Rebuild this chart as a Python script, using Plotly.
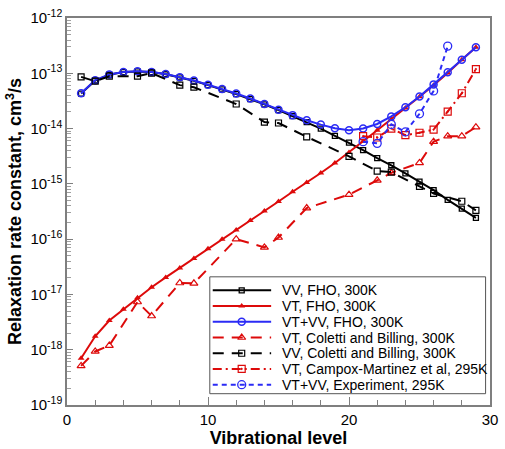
import plotly.graph_objects as go

# ---------------- data ----------------
levels_fho = list(range(1, 30))

vv_fho = [4.3e-14, 7.4e-14, 9.4e-14, 1.05e-13, 1.08e-13, 1.05e-13, 9.6e-14, 8.4e-14,
          7.3e-14, 6.1e-14, 5.1e-14, 4.2e-14, 3.4e-14, 2.75e-14, 2.15e-14, 1.68e-14,
          1.31e-14, 1.0e-14, 7.4e-15, 5.57e-15, 4.07e-15, 2.93e-15, 2.17e-15, 1.55e-15,
          1.1e-15, 7.7e-16, 5.13e-16, 3.55e-16, 2.43e-16]

vt_fho = [7.0e-19, 1.75e-18, 3.37e-18, 5.42e-18, 8.7e-18, 1.35e-17, 2.03e-17, 3.0e-17,
          4.47e-17, 6.7e-17, 1.0e-16, 1.47e-16, 2.17e-16, 3.23e-16, 4.79e-16, 7.2e-16,
          1.06e-15, 1.57e-15, 2.39e-15, 3.7e-15, 5.9e-15, 9.3e-15, 1.47e-14, 2.36e-14,
          3.75e-14, 6.1e-14, 1.01e-13, 1.75e-13, 2.97e-13]

vtvv_fho = [4.35e-14, 7.5e-14, 9.5e-14, 1.057e-13, 1.09e-13, 1.06e-13, 9.7e-14, 8.5e-14,
            7.4e-14, 6.2e-14, 5.2e-14, 4.3e-14, 3.5e-14, 2.78e-14, 2.2e-14, 1.75e-14,
            1.41e-14, 1.18e-14, 1.01e-14, 9.3e-15, 1.0e-14, 1.21e-14, 1.66e-14, 2.43e-14,
            3.8e-14, 6.3e-14, 1.04e-13, 1.75e-13, 2.97e-13]

levels_vt_cb = [1, 2, 3, 5, 6, 8, 9, 12, 14, 15, 17, 20, 22, 23, 25, 26, 27, 28, 29]
vt_cb = [5.1e-19, 9.3e-19, 1.19e-18, 7.3e-18, 4.07e-18, 1.61e-17, 1.59e-17, 1.0e-16,
         7.1e-17, 1.07e-16, 3.65e-16, 6.38e-16, 1.16e-15, 1.58e-15, 2.39e-15, 5.8e-15,
         7.3e-15, 7.3e-15, 1.06e-14]

levels_vv_cb = [1, 2, 3, 5, 6, 8, 9, 12, 14, 15, 17, 20, 22, 23, 25, 26, 28, 29]
vv_cb = [8.6e-14, 7.2e-14, 8.85e-14, 8.85e-14, 1.01e-13, 6.1e-14, 5.6e-14, 2.78e-14,
         1.31e-14, 1.26e-14, 7.1e-15, 3.14e-15, 1.7e-15, 1.63e-15, 8.97e-16, 6.7e-16,
         4.85e-16, 3.32e-16]

levels_cm = [21, 22, 23, 24, 25, 26, 27, 28, 29]
vt_cm = [7.3e-15, 6.9e-15, 1.0e-14, 7.6e-15, 8.4e-15, 9.6e-15, 2.03e-14, 4.35e-14, 1.19e-13]

levels_exp = [21, 22, 23, 24, 25, 26, 27]
vtvv_exp = [5.8e-15, 5.4e-15, 1.19e-14, 8.7e-15, 1.85e-14, 4.8e-14, 3.1e-13]

names = ["VV, FHO, 300K", "VT, FHO, 300K", "VT+VV, FHO, 300K",
         "VT, Coletti and Billing, 300K", "VV, Coletti and Billing, 300K",
         "VT, Campox-Martinez et al, 295K", "VT+VV, Experiment, 295K"]

x_ticks = [0, 10, 20, 30]
y_exponents = [-19, -18, -17, -16, -15, -14, -13, -12]

x_title = "Vibrational level"
y_title = "Relaxation rate constant, cm<sup>3</sup>/s"

# ---------------- styles ----------------
RED = "#dd0a0a"
BLUE = "#2b2bf5"
BLACK = "#000000"
FONT = "Arial, Liberation Sans, sans-serif"

styles = [
    dict(line=dict(color=BLACK, width=2),
         marker=dict(symbol="square-open", size=5, color=BLACK, line=dict(width=1.3))),
    dict(line=dict(color=RED, width=2),
         marker=dict(symbol="triangle-up", size=6, color=RED)),
    dict(line=dict(color=BLUE, width=2),
         marker=dict(symbol="circle-open", size=7, color=BLUE, line=dict(width=1.5))),
    dict(line=dict(color=RED, width=2, dash="11px,8px"),
         marker=dict(symbol="triangle-up-open", size=7, color=RED, line=dict(width=1.2))),
    dict(line=dict(color=BLACK, width=2, dash="11px,8px"),
         marker=dict(symbol="square-open", size=6, color=BLACK, line=dict(width=1.2))),
    dict(line=dict(color=RED, width=2, dash="9px,4px,2px,4px"),
         marker=dict(symbol="square-open-dot", size=7, color=RED, line=dict(width=1.2))),
    dict(line=dict(color=BLUE, width=2, dash="5px,4px"),
         marker=dict(symbol="circle-open", size=8, color=BLUE, line=dict(width=1.3))),
]

series = [(levels_fho, vv_fho), (levels_fho, vt_fho), (levels_fho, vtvv_fho),
          (levels_vt_cb, vt_cb), (levels_vv_cb, vv_cb), (levels_cm, vt_cm),
          (levels_exp, vtvv_exp)]

fig = go.Figure()
for name, (xs, ys), st in zip(names, series, styles):
    fig.add_trace(go.Scatter(x=xs, y=ys, name=name, mode="lines+markers",
                             line=st["line"], marker=st["marker"], showlegend=False))

# ---------------- legend box (drawn on a pixel-scaled overlay axis) ----------------
PLOT_L, PLOT_R, PLOT_T, PLOT_B = 67, 498, 16, 410
box = dict(x0=212.5, x1=493.5, y0=279.5, y1=398.5)
row0, row_step = 293.3, 16.0
samp_x0, samp_x1, samp_mid, text_x = 215.5, 275.0, 245.0, 284.0

fig.add_trace(go.Scatter(
    x=[box["x0"], box["x1"], box["x1"], box["x0"], box["x0"]],
    y=[box["y0"], box["y0"], box["y1"], box["y1"], box["y0"]],
    xaxis="x2", yaxis="y2", mode="lines", fill="toself", fillcolor="white",
    line=dict(color="#555555", width=1), showlegend=False, hoverinfo="skip"))

for i, (name, st) in enumerate(zip(names, styles)):
    ry = row0 + i * row_step
    fig.add_trace(go.Scatter(x=[samp_x0, samp_x1], y=[ry, ry], xaxis="x2", yaxis="y2",
                             mode="lines", line=st["line"], showlegend=False, hoverinfo="skip"))
    fig.add_trace(go.Scatter(x=[samp_mid], y=[ry], xaxis="x2", yaxis="y2",
                             mode="markers", marker=st["marker"], showlegend=False,
                             hoverinfo="skip"))
    fig.add_annotation(x=text_x, y=ry, xref="x2", yref="y2", text=name, showarrow=False,
                       xanchor="left", yanchor="middle",
                       font=dict(family=FONT, size=14, color="black"))

axis_common = dict(showline=True, linecolor="#7f7f7f", linewidth=1.5, mirror=True,
                   showgrid=False, zeroline=False, ticks="inside", tickcolor="#7f7f7f",
                   tickfont=dict(family=FONT, size=15, color="black"))

minor_vals = [m * 10.0 ** e for e in y_exponents[:-1] for m in range(2, 10)]

xaxis = dict(range=[0, 30], tickmode="array", tickvals=x_ticks,
             ticktext=[str(t) for t in x_ticks], ticklen=8, tickwidth=1,
             minor=dict(tickmode="linear", tick0=0, dtick=2, ticks="inside", ticklen=5,
                        tickcolor="#7f7f7f", showgrid=False),
             title=dict(text=x_title,
                        font=dict(family=FONT, size=18, color="black", weight="bold"),
                        standoff=2),
             **axis_common)

yaxis = dict(type="log", range=[-19, -12], tickmode="array",
             tickvals=[10.0 ** e for e in y_exponents],
             ticktext=["10<sup>%d</sup>" % e for e in y_exponents], ticklen=6,
             minor=dict(tickmode="array", tickvals=minor_vals, ticks="inside", ticklen=4,
                        tickcolor="#9f9f9f", showgrid=False),
             title=dict(text=y_title,
                        font=dict(family=FONT, size=18, color="black", weight="bold"),
                        standoff=4),
             **axis_common)

fig.update_layout(
    width=505, height=449,
    margin=dict(l=PLOT_L, r=505 - PLOT_R, t=PLOT_T, b=449 - PLOT_B),
    paper_bgcolor="white", plot_bgcolor="white",
    font=dict(family=FONT, color="black"),
    showlegend=False,
    xaxis=xaxis,
    yaxis=yaxis,
    xaxis2=dict(overlaying="x", anchor="y2", range=[PLOT_L, PLOT_R], visible=False,
                fixedrange=True),
    yaxis2=dict(overlaying="y", anchor="x2", range=[PLOT_B, PLOT_T], visible=False,
                fixedrange=True),
)

fig.write_html("out.html")
